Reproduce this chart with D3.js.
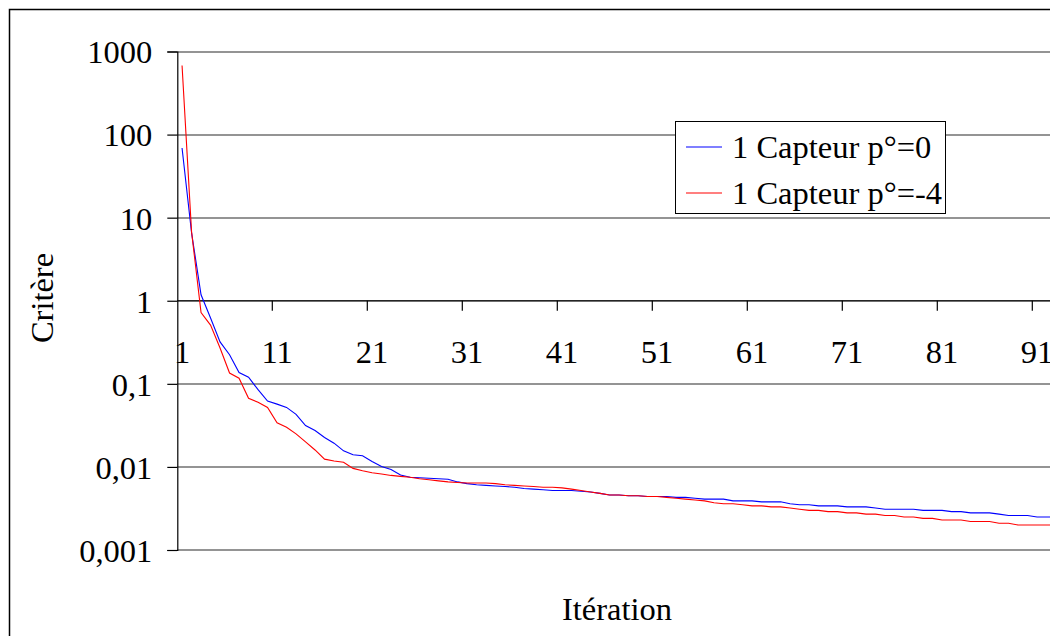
<!DOCTYPE html>
<html><head><meta charset="utf-8">
<script src="https://cdn.jsdelivr.net/npm/d3@7"></script>
<style>body{margin:0;background:#fff}svg{display:block}text{font-family:"Liberation Serif","Times New Roman",serif;fill:#000}</style>
</head><body><svg id="c" width="1050" height="636"></svg>
<script>
const iterations = d3.range(1, 101);
const seriesNames = ["1 Capteur p°=0", "1 Capteur p°=-4"];
const seriesColors = ["#0000ff", "#ff0000"];
const yTickValues = [0.001, 0.01, 0.1, 1, 10, 100, 1000];
const yTickLabels = ["0,001", "0,01", "0,1", "1", "10", "100", "1000"];
const xTickLabels = [1, 11, 21, 31, 41, 51, 61, 71, 81, 91];
const blue = [69, 6.6, 1.18, 0.62, 0.32, 0.224, 0.137, 0.120, 0.085, 0.062,
  0.057, 0.052, 0.043, 0.0315, 0.0274, 0.0226, 0.0193, 0.0156, 0.0140, 0.0136,
  0.0116, 0.0101, 0.0093, 0.0080, 0.0075, 0.0074, 0.0073, 0.0072, 0.0071, 0.0066,
  0.0063, 0.0061, 0.0060, 0.0059, 0.0058, 0.0057, 0.0055, 0.0054, 0.0053, 0.0052,
  0.0052, 0.0052, 0.0051, 0.0050, 0.0048, 0.0046, 0.0046, 0.0045, 0.0045, 0.0044,
  0.0044, 0.0044, 0.0043, 0.0043, 0.0042, 0.0041, 0.0041, 0.0041, 0.0039, 0.0039,
  0.0039, 0.0038, 0.0038, 0.0038, 0.0036, 0.0035, 0.0035, 0.0034, 0.0034, 0.0034,
  0.0033, 0.0033, 0.0033, 0.0032, 0.0031, 0.0031, 0.0031, 0.0031, 0.0030, 0.0030,
  0.0030, 0.0029, 0.0029, 0.0028, 0.0028, 0.0028, 0.0027, 0.0026, 0.0026, 0.0026,
  0.0025, 0.0025, 0.0025];
const red = [680, 6.8, 0.72, 0.51, 0.27, 0.135, 0.117, 0.067, 0.060, 0.052,
  0.034, 0.030, 0.025, 0.020, 0.016, 0.0124, 0.0118, 0.0114, 0.0096, 0.0090,
  0.0085, 0.0082, 0.0079, 0.0077, 0.0075, 0.0072, 0.0070, 0.0068, 0.0066, 0.0065,
  0.0064, 0.0064, 0.0064, 0.0063, 0.0061, 0.0060, 0.0059, 0.0058, 0.0057, 0.0057,
  0.0056, 0.0054, 0.0052, 0.0050, 0.0048, 0.0046, 0.0046, 0.0045, 0.0045, 0.0044,
  0.0044, 0.0043, 0.0042, 0.0041, 0.0040, 0.0039, 0.0037, 0.0036, 0.0036, 0.0035,
  0.0034, 0.0034, 0.0033, 0.0033, 0.0032, 0.0031, 0.0030, 0.0030, 0.0029, 0.0029,
  0.0028, 0.0028, 0.0027, 0.0027, 0.0026, 0.0026, 0.0025, 0.0025, 0.0024, 0.0024,
  0.0023, 0.0023, 0.0023, 0.0022, 0.0022, 0.0022, 0.0021, 0.0021, 0.0020, 0.0020,
  0.0020, 0.0020, 0.0020];
const series = [blue, red];

const svg = d3.select("#c");
const plotLeft = 177.3, plotTop = 51.5, plotBottom = 550, bandW = 9.5;
const x = d3.scaleBand().domain(iterations).range([plotLeft, plotLeft + bandW * iterations.length]);
const y = d3.scaleLog().domain([0.001, 1000]).range([plotBottom, plotTop]);
const FS = 32.5;

// outer border
svg.append("rect").attr("x", 9.5).attr("y", 9.5).attr("width", 1100).attr("height", 700)
  .attr("fill", "none").attr("stroke", "#000").attr("stroke-width", 1.5);

// gridlines
svg.append("g").selectAll("line").data(yTickValues).join("line")
  .attr("x1", plotLeft).attr("x2", 1060)
  .attr("y1", d => Math.round(y(d))).attr("y2", d => Math.round(y(d)))
  .attr("stroke", "#707070").attr("stroke-width", 1.6);

// y axis
const yAxis = d3.axisLeft(y).tickValues(yTickValues).tickSize(10)
  .tickFormat((d, i) => yTickLabels[i]);
const gy = svg.append("g").attr("transform", `translate(${plotLeft},0)`).call(yAxis);
gy.select(".domain").attr("stroke", "#000").attr("stroke-width", 1.2);
gy.selectAll(".tick line").attr("stroke", "#000").attr("stroke-width", 1.2);
gy.selectAll(".tick text").attr("font-family", "Liberation Serif").attr("font-size", FS)
  .attr("x", -25).attr("dy", "0.35em").attr("fill", "#000");

// x axis at value 1
const y1 = y(1);
svg.append("line").attr("x1", plotLeft).attr("x2", 1060).attr("y1", y1).attr("y2", y1)
  .attr("stroke", "#000").attr("stroke-width", 1.2);
const boundaries = xTickLabels.slice(1).map(v => x(v));
svg.append("g").selectAll("line").data(boundaries.concat([x(91) + bandW * 10])).join("line")
  .attr("x1", d => d).attr("x2", d => d).attr("y1", y1).attr("y2", y1 + 10)
  .attr("stroke", "#000").attr("stroke-width", 1.2);
svg.append("g").selectAll("text").data(xTickLabels).join("text")
  .attr("x", d => x(d) + x.bandwidth() / 2).attr("y", y1 + 62)
  .attr("text-anchor", "middle").attr("font-size", FS).text(d => d);

// series
const line = d3.line().x((d, i) => x(iterations[i]) + x.bandwidth() / 2).y(d => y(d));
series.forEach((s, k) => {
  svg.append("path").attr("d", line(s)).attr("fill", "none")
    .attr("stroke", seriesColors[k]).attr("stroke-width", 1.1);
});

// axis titles
svg.append("text").attr("transform", "translate(53,298) rotate(-90)")
  .attr("text-anchor", "middle").attr("font-size", FS).text("Critère");
svg.append("text").attr("x", 617).attr("y", 620)
  .attr("text-anchor", "middle").attr("font-size", FS).text("Itération");

// legend
const lg = svg.append("g");
lg.append("rect").attr("x", 675.5).attr("y", 121.5).attr("width", 270).attr("height", 92)
  .attr("fill", "#fff").attr("stroke", "#000").attr("stroke-width", 1);
seriesNames.forEach((n, k) => {
  const yy = 147 + k * 46;
  lg.append("line").attr("x1", 686).attr("x2", 722).attr("y1", yy).attr("y2", yy)
    .attr("stroke", seriesColors[k]).attr("stroke-width", 1.1);
  lg.append("text").attr("x", 732).attr("y", yy + 11).attr("font-size", FS).text(n);
});
</script></body></html>
